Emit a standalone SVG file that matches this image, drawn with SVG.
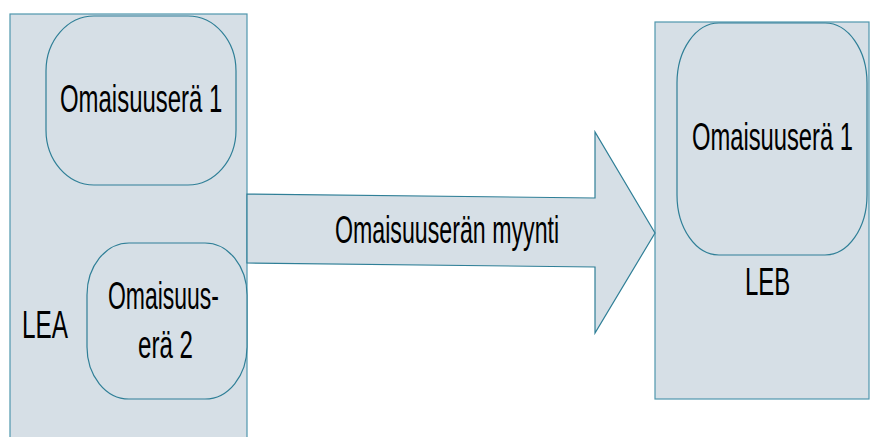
<svg xmlns="http://www.w3.org/2000/svg" width="870" height="437" viewBox="0 0 870 437">
<style>
.box{fill:#d6dfe6;stroke:#4f97ad;stroke-width:1.2}
.node{fill:#d6dfe6;stroke:#2f7f97;stroke-width:1.2}
.arrow{fill:#d6dfe6;stroke:#2f7f97;stroke-width:1.2;stroke-linejoin:miter}
.t{font-family:"Liberation Sans",Arial,sans-serif;font-size:38px;fill:#000}
</style>
<rect width="870" height="437" fill="#ffffff"/>
<g id="LEA">
<rect class="box" x="10" y="14" width="237" height="440"/>
<text class="t" transform="translate(22,338) scale(0.64,1)">LEA</text>
</g>
<g id="LEB">
<rect class="box" x="655" y="22" width="214" height="377"/>
<text class="t" transform="translate(745,295) scale(0.63,1)">LEB</text>
</g>
<g id="connectors">
<polygon class="arrow" points="247,194 595,198 595,132 655,233 595,333 595,267 247,263"/>
<text class="t" font-size="36" transform="translate(335,243) scale(0.61,1)">Omaisuuserän myynti</text>
</g>
<g id="LEA-omaisuusera1">
<rect class="node" x="46" y="16" width="190" height="169" rx="48" ry="55"/>
<text class="t" transform="translate(60,112) scale(0.63,1)">Omaisuuserä 1</text>
</g>
<g id="LEA-omaisuusera2">
<rect class="node" x="87" y="243" width="160" height="156" rx="42" ry="52"/>
<text class="t" transform="translate(108,309) scale(0.604,1)">Omaisuus-</text>
<text class="t" transform="translate(138,358) scale(0.635,1)">erä 2</text>
</g>
<g id="LEB-omaisuusera1">
<rect class="node" x="677" y="23" width="190" height="232" rx="42" ry="60"/>
<text class="t" transform="translate(692,150) scale(0.625,1)">Omaisuuserä 1</text>
</g>
</svg>
